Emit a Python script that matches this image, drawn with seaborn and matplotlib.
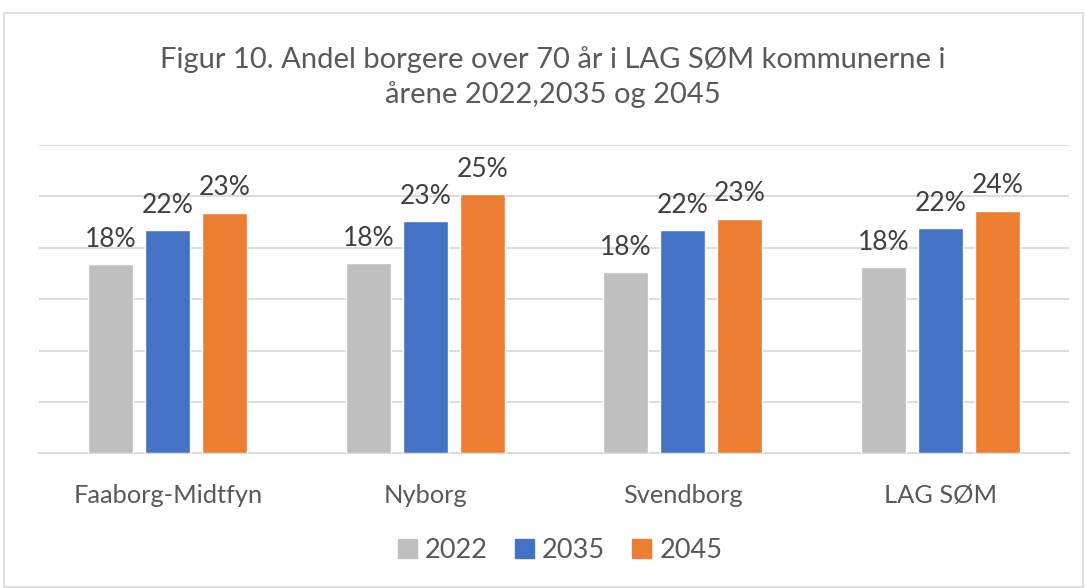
import matplotlib
matplotlib.use("Agg")
import matplotlib.pyplot as plt
import matplotlib.patches as mpatches
import seaborn as sns
import pandas as pd

categories = ["Faaborg-Midtfyn", "Nyborg", "Svendborg", "LAG SØM"]
years = ["2022", "2035", "2045"]
v2022 = [0.184, 0.185, 0.176, 0.181]
v2035 = [0.217, 0.226, 0.217, 0.219]
v2045 = [0.234, 0.252, 0.228, 0.236]
colors = ["#BFBFBF", "#4472C4", "#ED7D31"]
title = "Figur 10. Andel borgere over 70 år i LAG SØM kommunerne i\nårene 2022,2035 og 2045"

rows = []
for yr, vals in zip(years, [v2022, v2035, v2045]):
    for c, v in zip(categories, vals):
        rows.append({"Kommune": c, "År": yr, "Andel": v})
df = pd.DataFrame(rows)

sns.set_theme(style="white")
plt.rcParams["font.family"] = ["Lato", "DejaVu Sans"]
txt = "#595959"

fig = plt.figure(figsize=(10.85, 5.88), dpi=100)
ax = fig.add_axes([39 / 1085, 1 - 453.3 / 588, 1030 / 1085, (453.3 - 145) / 588])

sns.barplot(data=df, x="Kommune", y="Andel", hue="År", hue_order=years,
            order=categories, palette=colors, width=0.664, gap=0.21,
            saturation=1, ax=ax, legend=True, zorder=3)

ax.set_ylim(0, 0.30)
ax.set_yticks([0, 0.05, 0.10, 0.15, 0.20, 0.25, 0.30])
ax.yaxis.grid(True, color="#D9D9D9", linewidth=1.3, zorder=0)
ax.set_axisbelow(True)
ax.set_yticklabels([])
ax.tick_params(axis="y", length=0)
ax.tick_params(axis="x", length=0, labelsize=18.3, labelcolor=txt, pad=22)
ax.set_xlabel("")
ax.set_ylabel("")
for s in ["left", "right", "top"]:
    ax.spines[s].set_visible(False)
ax.spines["bottom"].set_color("#D9D9D9")
ax.spines["bottom"].set_linewidth(1.3)
ax.set_xlim(-0.5, 3.5)

for cont in ax.containers:
    ax.bar_label(cont, labels=[f"{v*100:.0f}%" for v in cont.datavalues],
                 padding=9, fontsize=19, color="#404040")

ax.get_legend().remove()
handles = [mpatches.Patch(color=c, label=y) for c, y in zip(colors, years)]
fig.legend(handles=handles, loc="center", bbox_to_anchor=(560 / 1085, 1 - 550 / 588),
           ncol=3, frameon=False, fontsize=19.5, labelcolor=txt,
           handlelength=0.7, handleheight=0.7, handletextpad=0.3, columnspacing=1.0)

fig.text(553 / 1085, 1 - 77 / 588, title, ha="center", va="center",
         fontsize=21, color=txt, linespacing=1.35)

border = mpatches.Rectangle((4 / 1085, 1 / 588), 1079 / 1085, (587 - 13) / 588,
                            transform=fig.transFigure, fill=False,
                            edgecolor="#D9D9D9", linewidth=1.2)
fig.patches.append(border)

fig.savefig("out.png", dpi=100)
